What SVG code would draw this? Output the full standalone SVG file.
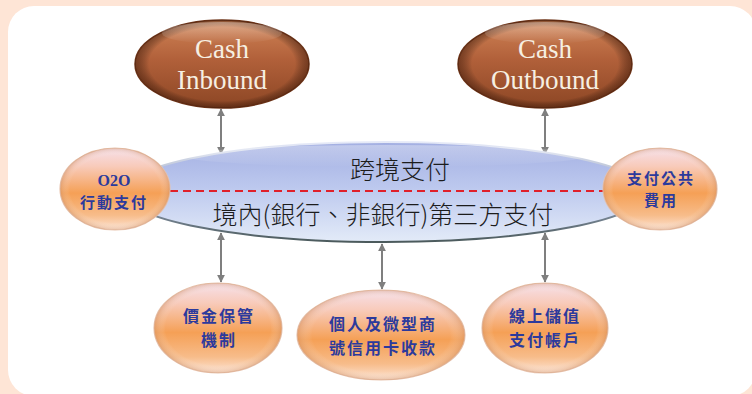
<svg xmlns="http://www.w3.org/2000/svg" width="752" height="394" viewBox="0 0 752 394">
<defs>
<linearGradient id="brown" x1="0" y1="0" x2="0" y2="1">
<stop offset="0" stop-color="#d08456"/>
<stop offset="0.45" stop-color="#b1603a"/>
<stop offset="1" stop-color="#8c4624"/>
</linearGradient>
<radialGradient id="brownEdge" cx="0.5" cy="0.5" r="0.5">
<stop offset="0.84" stop-color="#000" stop-opacity="0"/>
<stop offset="1" stop-color="#3a1606" stop-opacity="0.5"/>
</radialGradient>
<linearGradient id="orange" x1="0" y1="0" x2="0" y2="1">
<stop offset="0" stop-color="#f6e0ea"/>
<stop offset="0.22" stop-color="#f8cbbb"/>
<stop offset="0.55" stop-color="#f5a056"/>
<stop offset="0.82" stop-color="#f7bc8a"/>
<stop offset="1" stop-color="#fde4d4"/>
</linearGradient>
<radialGradient id="orangeEdge" cx="0.5" cy="0.5" r="0.5">
<stop offset="0.82" stop-color="#fff" stop-opacity="0"/>
<stop offset="1" stop-color="#c98a60" stop-opacity="0.4"/>
</radialGradient>
<linearGradient id="blue" x1="0" y1="0" x2="0" y2="1">
<stop offset="0" stop-color="#a3afe2"/>
<stop offset="0.45" stop-color="#bcc8ee"/>
<stop offset="1" stop-color="#e3ebf8"/>
</linearGradient>
<linearGradient id="blueStroke" x1="0" y1="0" x2="0" y2="1">
<stop offset="0" stop-color="#e6eaf8"/>
<stop offset="0.6" stop-color="#8e9bb0"/>
<stop offset="1" stop-color="#4b5a5c"/>
</linearGradient>
<linearGradient id="gloss" x1="0" y1="0" x2="0" y2="1">
<stop offset="0" stop-color="#fff" stop-opacity="0.55"/>
<stop offset="1" stop-color="#fff" stop-opacity="0"/>
</linearGradient>
<marker id="ah" viewBox="0 0 10 10" refX="9" refY="5" markerWidth="4" markerHeight="4" orient="auto-start-reverse" markerUnits="strokeWidth">
<path d="M0,0 L10,5 L0,10 z" fill="#7f7f7f"/>
</marker>
</defs>
<style>
.brown{fill:url(#brown);stroke:#6e3418;stroke-width:1.5}
.orng{fill:url(#orange);stroke:#e7c2ac;stroke-width:1.2}
.edgeb{fill:url(#brownEdge)}
.edgeo{fill:url(#orangeEdge)}
.gloss{fill:url(#gloss)}
.cash{font-family:"Liberation Serif","Times New Roman",serif;font-size:27px;fill:#f6efe2;text-anchor:middle}
.lbl{font-family:"Noto Sans CJK TC","Noto Sans CJK SC",sans-serif;font-weight:700;font-size:16px;letter-spacing:2px;fill:#2c3a9c;text-anchor:middle}
.sm{font-size:15px}
.mid{font-family:"Noto Sans CJK TC","Noto Sans CJK SC",sans-serif;font-weight:300;font-size:25px;fill:#1c1c1c;text-anchor:middle}
.conn line{stroke:#7f7f7f;stroke-width:2;marker-start:url(#ah);marker-end:url(#ah)}
</style>
<rect x="0" y="0" width="752" height="394" fill="#fee5d6"/>
<rect x="8" y="6" width="748" height="390" rx="26" fill="#ffffff"/>

<g id="connectors" class="conn">
<line x1="221" y1="109" x2="221" y2="154"/>
<line x1="545" y1="109" x2="545" y2="154"/>
<line x1="221" y1="233" x2="221" y2="282"/>
<line x1="382" y1="244" x2="382" y2="289"/>
<line x1="545" y1="233" x2="545" y2="282"/>
</g>

<g id="cross-border">
<ellipse cx="385" cy="192" rx="262" ry="50" fill="url(#blue)" stroke="url(#blueStroke)" stroke-width="2"/>
<ellipse cx="385" cy="156" rx="200" ry="11" class="gloss" opacity="0.6"/>
<line x1="170" y1="191" x2="604" y2="191" stroke="#e0202a" stroke-width="2" stroke-dasharray="8,5"/>
<text class="mid" x="400" y="179">跨境支付</text>
<text class="mid" x="383" y="224">境內(銀行、非銀行)第三方支付</text>
</g>

<g id="cash-inbound">
<ellipse cx="222" cy="64" rx="87" ry="44" class="brown"/>
<ellipse cx="222" cy="64" rx="87" ry="44" class="edgeb"/>
<ellipse cx="222" cy="33" rx="60" ry="11" class="gloss" opacity="0.6"/>
<text class="cash" x="222" y="58">Cash</text>
<text class="cash" x="222" y="89">Inbound</text>
</g>

<g id="cash-outbound">
<ellipse cx="545" cy="64" rx="87" ry="44" class="brown"/>
<ellipse cx="545" cy="64" rx="87" ry="44" class="edgeb"/>
<ellipse cx="545" cy="33" rx="60" ry="11" class="gloss" opacity="0.6"/>
<text class="cash" x="545" y="58">Cash</text>
<text class="cash" x="545" y="89">Outbound</text>
</g>

<g id="o2o">
<ellipse cx="115" cy="189" rx="55" ry="41" class="orng"/>
<ellipse cx="115" cy="189" rx="55" ry="41" class="edgeo"/>
<text x="114" y="186" font-family="Liberation Serif,serif" font-weight="700" font-size="16" fill="#2c3a9c" text-anchor="middle">O2O</text>
<text class="lbl sm" x="114" y="208">行動支付</text>
</g>

<g id="public-fees">
<ellipse cx="660" cy="189" rx="57" ry="41" class="orng"/>
<ellipse cx="660" cy="189" rx="57" ry="41" class="edgeo"/>
<text class="lbl sm" x="661" y="184">支付公共</text>
<text class="lbl sm" x="661" y="206">費用</text>
</g>

<g id="escrow">
<ellipse cx="218" cy="328" rx="64" ry="45" class="orng"/>
<ellipse cx="218" cy="328" rx="64" ry="45" class="edgeo"/>
<text class="lbl" x="219" y="322">價金保管</text>
<text class="lbl" x="219" y="346">機制</text>
</g>

<g id="micro-merchant">
<ellipse cx="381" cy="335" rx="84" ry="45" class="orng"/>
<ellipse cx="381" cy="335" rx="84" ry="45" class="edgeo"/>
<text class="lbl" x="383" y="330">個人及微型商</text>
<text class="lbl" x="383" y="354">號信用卡收款</text>
</g>

<g id="stored-value">
<ellipse cx="545" cy="328" rx="63" ry="45" class="orng"/>
<ellipse cx="545" cy="328" rx="63" ry="45" class="edgeo"/>
<text class="lbl" x="545" y="322">線上儲值</text>
<text class="lbl" x="545" y="346">支付帳戶</text>
</g>
</svg>
